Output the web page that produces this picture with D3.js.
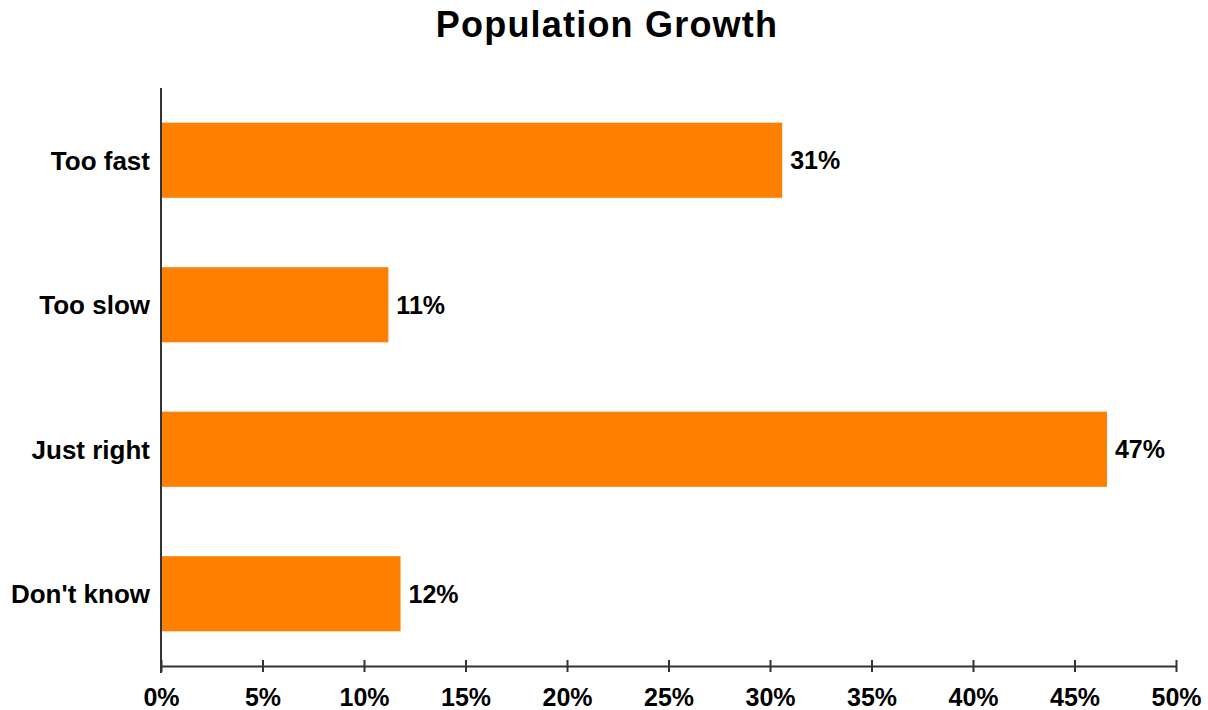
<!DOCTYPE html>
<html>
<head>
<meta charset="utf-8">
<script src="https://cdn.jsdelivr.net/npm/d3@7"></script>
<style>
  html, body { margin: 0; padding: 0; background: #fff; }
  text { font-family: "Liberation Sans", Arial, sans-serif; fill: #000; }
</style>
</head>
<body>
<svg id="chart" width="1208" height="710"></svg>
<script>
// Survey answers on population growth (share of respondents)
const categories = ["Too fast", "Too slow", "Just right", "Don't know"];
const shares = [0.306, 0.112, 0.466, 0.118];
const tickValues = [0, 0.05, 0.10, 0.15, 0.20, 0.25, 0.30, 0.35, 0.40, 0.45, 0.50];
const title = "Population Growth";

const svg = d3.select("#chart");
const margin = { top: 88, left: 161 };

const x = d3.scaleLinear().domain([0, 0.5]).range([margin.left, 1176]);
const y = d3.scaleBand().domain(categories).range([margin.top, 666]).paddingInner(0.48).paddingOuter(0.24);

const pct = d3.format(".0%");

// title
svg.append("text")
  .attr("x", 607).attr("y", 37)
  .attr("text-anchor", "middle")
  .style("font-size", "36px").style("font-weight", "bold")
  .style("letter-spacing", "1.2px")
  .text(title);

// bars
svg.append("g").selectAll("rect")
  .data(categories)
  .join("rect")
  .attr("x", x(0))
  .attr("y", d => y(d))
  .attr("width", (d, i) => x(shares[i]) - x(0))
  .attr("height", y.bandwidth())
  .attr("fill", "#ff8000");

// value labels
svg.append("g").selectAll("text")
  .data(categories)
  .join("text")
  .attr("x", (d, i) => x(shares[i]) + 8)
  .attr("y", d => y(d) + y.bandwidth() / 2)
  .attr("dy", "0.36em")
  .style("font-size", "25px").style("font-weight", "bold")
  .text((d, i) => pct(shares[i]));

// category labels
svg.append("g").selectAll("text")
  .data(categories)
  .join("text")
  .attr("x", x(0) - 11)
  .attr("y", d => y(d) + y.bandwidth() / 2)
  .attr("dy", "0.36em")
  .attr("text-anchor", "end")
  .style("font-size", "26px").style("font-weight", "bold")
  .text(d => d);

// axes
const axisColor = "#333";
svg.append("line")
  .attr("x1", x(0)).attr("x2", x(0))
  .attr("y1", margin.top).attr("y2", 673)
  .attr("stroke", axisColor).attr("stroke-width", 2);

const xAxis = d3.axisBottom(x)
  .tickValues(tickValues)
  .tickFormat(pct)
  .tickSizeInner(6)
  .tickSizeOuter(0)
  .tickPadding(16);

const gx = svg.append("g")
  .attr("transform", "translate(0,666)")
  .call(xAxis);
gx.select(".domain").attr("stroke", axisColor).attr("stroke-width", 2);
gx.selectAll(".tick line")
  .attr("y1", -6).attr("y2", 6)
  .attr("stroke", axisColor).attr("stroke-width", 2);
gx.selectAll(".tick text")
  .style("font-size", "25px").style("font-weight", "bold")
  .style("font-family", "'Liberation Sans', Arial, sans-serif")
  .attr("fill", "#000");
</script>
</body>
</html>
